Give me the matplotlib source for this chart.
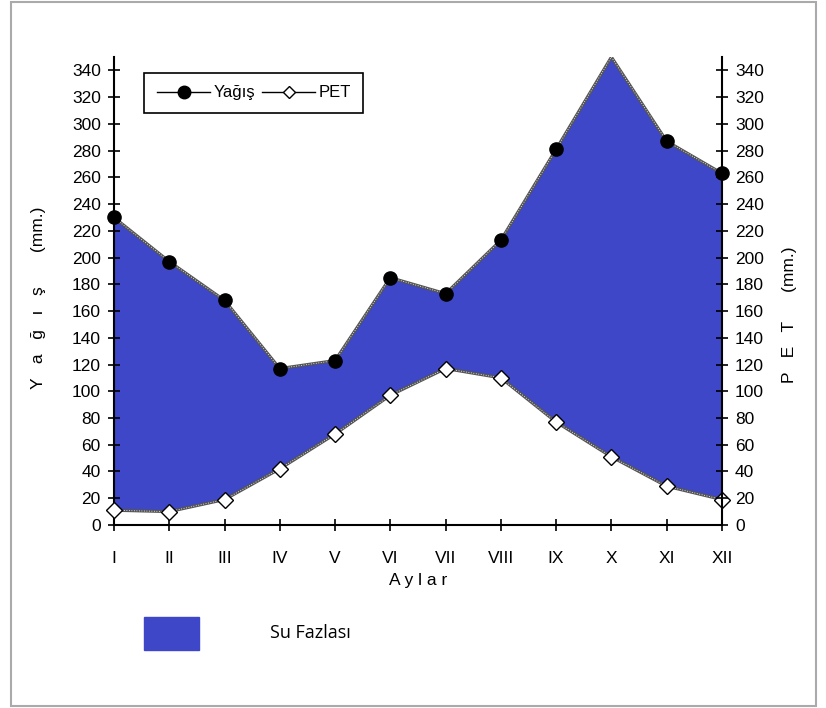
import matplotlib
matplotlib.use("Agg")
import matplotlib.pyplot as plt
from matplotlib.patches import Rectangle

plt.rcParams['font.family'] = ['Liberation Sans', 'DejaVu Sans']

aylar = ["I", "II", "III", "IV", "V", "VI", "VII", "VIII", "IX", "X", "XI", "XII"]
yagis = [230, 197, 168, 117, 123, 185, 173, 213, 281, 350, 287, 263]
pet = [11, 10, 19, 42, 68, 97, 117, 110, 77, 51, 29, 19]
yticks = list(range(0, 341, 20))

fazla_renk = "#3d47c7"

fig = plt.figure(figsize=(8.26, 7.08), dpi=100)
ax = fig.add_axes([0.138, 0.2585, 0.736, 0.661])
x = list(range(len(aylar)))

ax.fill_between(x, pet, yagis, color=fazla_renk, lw=0, zorder=1)

# lines: dark outline with light dotted core, like the original
for seri in (yagis, pet):
    ax.plot(x, seri, color="#555555", lw=2.2, zorder=2)
    ax.plot(x, seri, color="white", lw=0.6, ls=(0, (1, 2)), zorder=3)

# markers (the X peak marker falls outside the plot)
ax.plot(x, yagis, ls="none", marker="o", ms=9.5, color="black", zorder=4,
        markevery=[i for i in x if i != 9], clip_on=False)
ax.plot(x, pet, ls="none", marker="D", ms=8.5, mfc="white", mec="black",
        mew=1, zorder=4, clip_on=False)

ax.set_xlim(0, 11)
ax.set_ylim(0, 350)
ax.set_xticks(x)
ax.set_xticklabels(aylar)
ax.set_yticks(yticks)
ax.tick_params(axis="both", direction="inout", length=9, width=1.2,
               labelsize=12.5, colors="black")
ax.tick_params(axis="x", pad=14)
ax.tick_params(axis="y", pad=5)
for s in ("left", "bottom"):
    ax.spines[s].set_linewidth(1.5)
ax.spines["top"].set_visible(False)
ax.spines["right"].set_visible(False)

ax2 = ax.twinx()
ax2.set_ylim(0, 350)
ax2.set_yticks(yticks)
ax2.tick_params(axis="y", direction="inout", length=9, width=1.2,
                labelsize=12.5, pad=5)
ax2.spines["right"].set_linewidth(1.5)
for s in ("left", "top", "bottom"):
    ax2.spines[s].set_visible(False)

ax.set_xlabel("A y l a r", fontsize=12.5, labelpad=5)
ax.set_ylabel("Y   a   ğ   ı   ş       (mm.)", fontsize=12.5)
ax.yaxis.set_label_coords(-0.112, 0.485)
ax2.set_ylabel("P   E   T      (mm.)", fontsize=12.5)
ax2.yaxis.set_label_coords(1.098, 0.45)

h1, = ax.plot([], [], color="black", lw=1, marker="o", ms=9)
h2, = ax.plot([], [], color="black", lw=1, marker="D", ms=6, mfc="white", mec="black")
leg = ax.legend([h1, h2], ["Yağış", "PET"], ncol=2, loc="upper left",
                bbox_to_anchor=(0.05, 0.966), fontsize=12, fancybox=False,
                framealpha=1, edgecolor="black", handlelength=3.2,
                columnspacing=0.4, handletextpad=0.2, borderpad=0.75,
                borderaxespad=0)
leg.get_frame().set_linewidth(1.2)

# "Su Fazlası" key below the chart
fig.patches.append(Rectangle((144 / 826, 1 - 650 / 708), 55 / 826, 33 / 708,
                             transform=fig.transFigure, color=fazla_renk))
fig.text(270 / 826, 1 - 633 / 708, "Su Fazlası", fontsize=13,
         family="Open Sans", va="center", ha="left")

# outer frame
fig.patches.append(Rectangle((11 / 826, 2 / 708), 805 / 826, 704 / 708,
                             transform=fig.transFigure, fill=False,
                             edgecolor="#aaaaaa", lw=1.5))

fig.savefig("out.png", dpi=100)
